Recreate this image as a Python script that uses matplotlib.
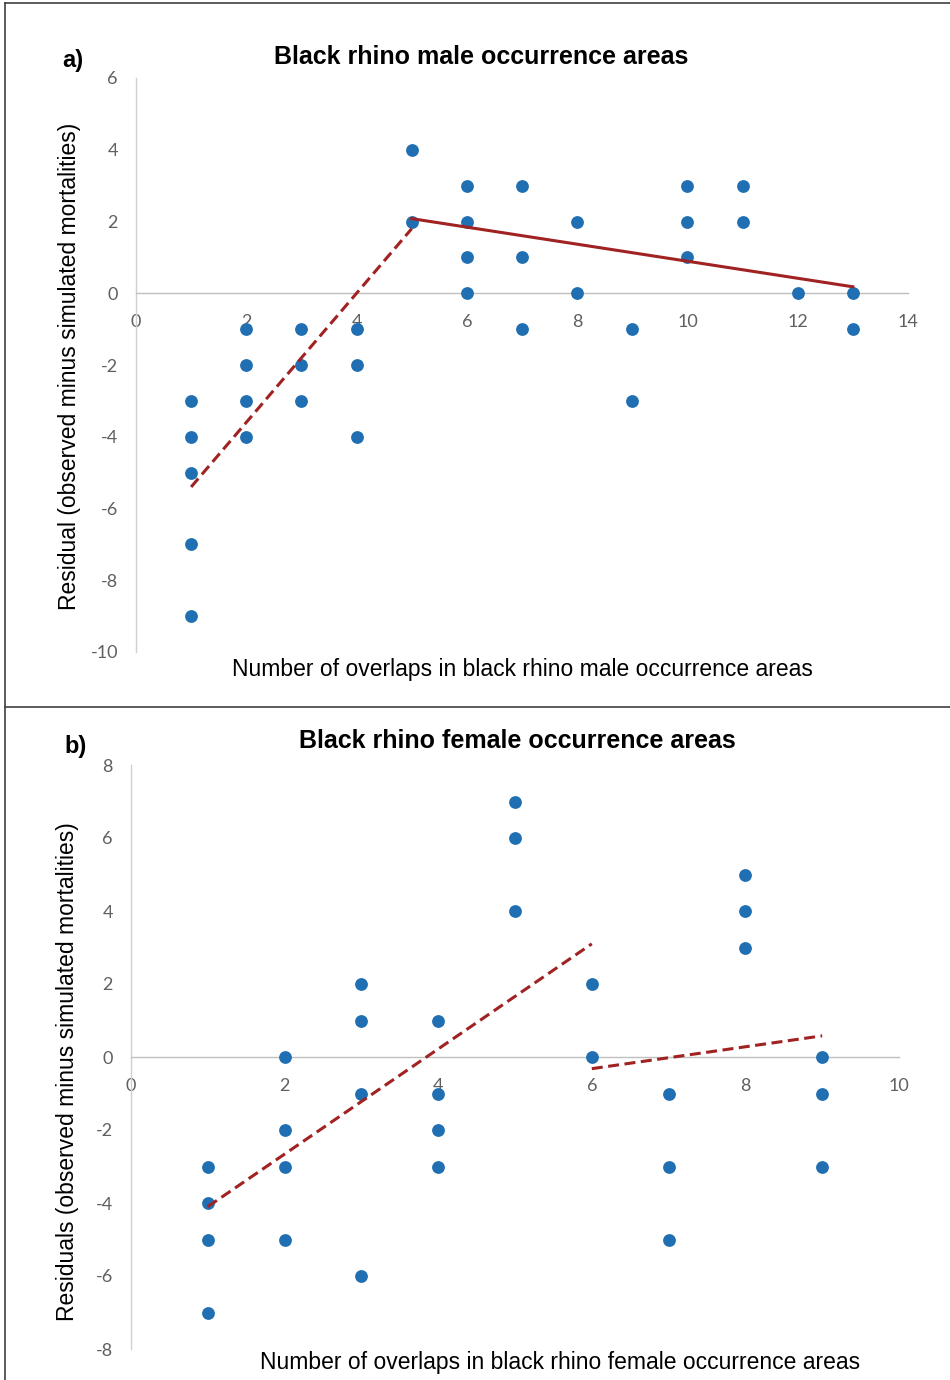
import matplotlib
matplotlib.use("Agg")
import matplotlib.pyplot as plt
from matplotlib.lines import Line2D
import numpy as np

# ---- Data: panel a (male) ----
male_x = [1, 1, 1, 1, 1, 2, 2, 2, 2, 3, 3, 3, 4, 4, 4, 5, 5, 6, 6, 6, 6,
          7, 7, 7, 8, 8, 9, 9, 10, 10, 10, 11, 11, 12, 13, 13]
male_y = [-3, -4, -5, -7, -9, -1, -2, -3, -4, -1, -2, -3, -1, -2, -4, 4, 2, 3, 2, 1, 0,
          3, 1, -1, 2, 0, -1, -3, 3, 2, 1, 3, 2, 0, 0, -1]
male_fit1_x = [1, 5]
male_fit1_y = [-5.4, 1.8]
male_fit2_x = [5, 13]
male_fit2_y = [2.08, 0.18]

# ---- Data: panel b (female) ----
fem_x = [1, 1, 1, 1, 2, 2, 2, 2, 3, 3, 3, 3, 4, 4, 4, 4, 5, 5, 5, 6, 6,
         7, 7, 7, 8, 8, 8, 9, 9, 9]
fem_y = [-3, -4, -5, -7, 0, -2, -3, -5, 2, 1, -1, -6, 1, -1, -2, -3, 7, 6, 4, 2, 0,
         -1, -3, -5, 5, 4, 3, 0, -1, -3]
fem_fit1_x = [1, 6]
fem_fit1_y = [-4.1, 3.1]
fem_fit2_x = [6, 9]
fem_fit2_y = [-0.32, 0.58]

male_xticks = [0, 2, 4, 6, 8, 10, 12, 14]
male_yticks = [6, 4, 2, 0, -2, -4, -6, -8, -10]
fem_xticks = [0, 2, 4, 6, 8, 10]
fem_yticks = [8, 6, 4, 2, 0, -2, -4, -6, -8]

W, H = 950, 1380
fig = plt.figure(figsize=(W / 100, H / 100), dpi=100)

DOT = '#1f6fb2'
RED = '#a02222'
GRID = '#bfbfbf'
TICK = '#606060'


def ax_rect(l, r, t, b):
    return [l / W, 1 - b / H, (r - l) / W, (b - t) / H]


def style(ax, xticks, yticks, xlim, ylim):
    ax.set_xlim(*xlim)
    ax.set_ylim(*ylim)
    for s in ['top', 'right']:
        ax.spines[s].set_visible(False)
    ax.spines['bottom'].set_position(('data', 0))
    ax.spines['bottom'].set_color(GRID)
    ax.spines['left'].set_color('#d0d0d0')
    ax.spines['bottom'].set_linewidth(1.0)
    ax.spines['left'].set_linewidth(1.0)
    ax.set_xticks(xticks)
    ax.set_yticks(yticks)
    ax.set_xticklabels([str(v) for v in xticks])
    ax.set_yticklabels([str(v) for v in yticks])
    ax.tick_params(length=0, labelsize=13, labelcolor=TICK)
    ax.tick_params(axis='y', pad=13)
    ax.tick_params(axis='x', pad=15)
    for lab in ax.get_xticklabels() + ax.get_yticklabels():
        lab.set_family('Lato')
    ax.patch.set_alpha(0)


# Panel a
ax1 = fig.add_axes(ax_rect(136, 908, 78, 652))
style(ax1, male_xticks, male_yticks, (0, 14), (-10, 6))
ax1.scatter(male_x, male_y, s=85, color=DOT, zorder=3, linewidths=0)
ax1.plot(male_fit1_x, male_fit1_y, color=RED, lw=2.2, ls=(0, (3.6, 1.8)), zorder=4)
ax1.plot(male_fit2_x, male_fit2_y, color=RED, lw=2.2, zorder=4)

# Panel b
ax2 = fig.add_axes(ax_rect(131, 899, 765, 1349))
style(ax2, fem_xticks, fem_yticks, (0, 10), (-8, 8))
ax2.scatter(fem_x, fem_y, s=85, color=DOT, zorder=3, linewidths=0)
ax2.plot(fem_fit1_x, fem_fit1_y, color=RED, lw=2.2, ls=(0, (3.6, 1.8)), zorder=4)
ax2.plot(fem_fit2_x, fem_fit2_y, color=RED, lw=2.2, ls=(0, (3.6, 1.8)), zorder=4)

FONT = 'Liberation Sans'


def ftext(x, y, s, **kw):
    fig.text(x / W, 1 - y / H, s, family=FONT, **kw)


ftext(73, 60, 'a)', fontsize=17, fontweight='bold', ha='center', va='center')
ftext(481, 57, 'Black rhino male occurrence areas', fontsize=18, fontweight='bold', ha='center', va='center')
ftext(522, 670, 'Number of overlaps in black rhino male occurrence areas', fontsize=16.5, ha='center', va='center')
ftext(70, 366, 'Residual (observed minus simulated mortalities)', fontsize=16.5, ha='center', va='center', rotation=90)

ftext(76, 746, 'b)', fontsize=17, fontweight='bold', ha='center', va='center')
ftext(517, 741, 'Black rhino female occurrence areas', fontsize=18, fontweight='bold', ha='center', va='center')
ftext(560, 1363, 'Number of overlaps in black rhino female occurrence areas', fontsize=16.5, ha='center', va='center')
ftext(68, 1072, 'Residuals (observed minus simulated mortalities)', fontsize=16.5, ha='center', va='center', rotation=90)

# Frame borders
border = dict(color='#404040', lw=1.2, transform=fig.transFigure)
fig.add_artist(Line2D([5 / W, 5 / W], [0, 1 - 3 / H], **border))
fig.add_artist(Line2D([5 / W, 1], [1 - 3 / H, 1 - 3 / H], **border))
fig.add_artist(Line2D([5 / W, 1], [1 - 707 / H, 1 - 707 / H], **border))

fig.savefig('out.png', dpi=100, facecolor='white')
